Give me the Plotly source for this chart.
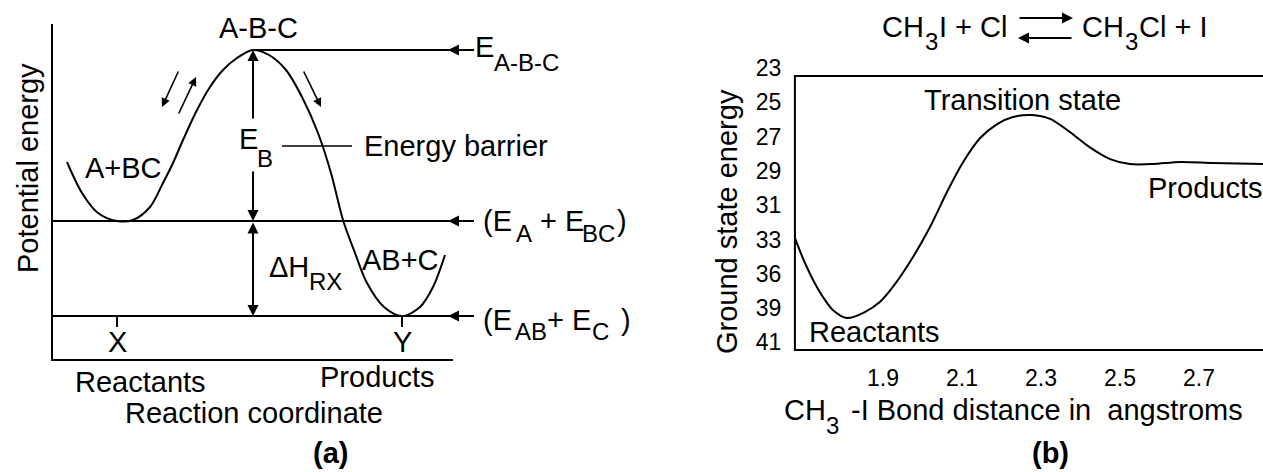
import numpy as np
import plotly.graph_objects as go

FONT = "Liberation Sans, Arial, Helvetica, sans-serif"
INK = "black"

# ---------------- Panel (a): schematic potential energy surface ----------------
# reaction coordinate (arbitrary units) and potential energy (arbitrary units)
rc = [1.5, 3.0, 4.6, 6.5, 8.1, 9.8, 11.1, 12.1, 13.1, 14.5, 15.8, 17.1, 18.5, 20.1,
      21.7, 23.4, 25.0, 26.6, 27.9, 29.1, 30.3, 31.5, 33.2, 35.0, 36.8, 38.1, 39.3]
pe = [19.8, 16.7, 14.7, 13.9, 14.0, 15.3, 17.7, 19.7, 22.0, 25.0, 27.3, 29.0, 30.2, 31.0,
      30.5, 29.0, 26.3, 22.7, 18.7, 14.0, 10.7, 7.7, 5.3, 4.4, 5.3, 7.3, 10.5]

# characteristic points
x_react, x_ts, x_prod = 6.5, 20.1, 35.0
e_ts, e_react, e_prod = 31.0, 13.9, 4.4
axis_x_end, axis_y_end = 40.1, 33.6
level_end, level_arrow_tip = 42.2, 39.6
eb_gap = [19.0, 24.0]          # break in the barrier arrow around the E_B label
tick_depth = 1.1

# ---------------- Panel (b): CH3I + Cl ground state energy ----------------
bond_dist = [1.677, 1.697, 1.723, 1.748, 1.773, 1.809, 1.854, 1.892, 1.925, 1.976,
             2.019, 2.062, 2.103, 2.146, 2.189, 2.229, 2.277, 2.323, 2.373, 2.423,
             2.475, 2.525, 2.584, 2.652, 2.735, 2.862]
gs_energy = [32.91, 34.62, 36.54, 38.03, 39.11, 39.58, 39.23, 38.47, 37.15, 34.53,
             32.27, 30.23, 28.48, 27.08, 26.27, 25.86, 25.74, 25.97, 26.73, 27.61,
             28.31, 28.60, 28.60, 28.48, 28.54, 28.60]
energy_ticks = [23, 25, 27, 29, 31, 33, 36, 39, 41]
dist_ticks = [1.9, 2.1, 2.3, 2.5, 2.7]

# the energy scale is laid out with evenly spaced labels
tick_pos = list(range(len(energy_ticks)))
gs_pos = np.interp(gs_energy, energy_ticks, tick_pos)

W, H = 1263, 472
MAIN, SUB, TICK = 29, 24, 23

fig = go.Figure()

line = dict(color=INK, width=2)
# panel (a) traces
fig.add_trace(go.Scatter(x=[0, 0, axis_x_end], y=[axis_y_end, 0, 0], mode="lines",
                         line=line, xaxis="x", yaxis="y"))
fig.add_trace(go.Scatter(x=rc, y=pe, mode="lines",
                         line=dict(color=INK, width=2, shape="spline", smoothing=0.9),
                         xaxis="x", yaxis="y"))
fig.add_trace(go.Scatter(x=[x_ts, level_end], y=[e_ts, e_ts], mode="lines", line=line, xaxis="x", yaxis="y"))
fig.add_trace(go.Scatter(x=[0, level_end], y=[e_react, e_react], mode="lines", line=line, xaxis="x", yaxis="y"))
fig.add_trace(go.Scatter(x=[0, level_end], y=[e_prod, e_prod], mode="lines", line=line, xaxis="x", yaxis="y"))
for xt in (x_react, x_prod):
    fig.add_trace(go.Scatter(x=[xt, xt], y=[e_prod, e_prod - tick_depth], mode="lines", line=line,
                             xaxis="x", yaxis="y"))
# connector from E_B to its caption
fig.add_trace(go.Scatter(x=[23.0, 30.0], y=[21.4, 21.4], mode="lines", line=dict(color=INK, width=1.6),
                         xaxis="x", yaxis="y"))

# panel (b) curve
fig.add_trace(go.Scatter(x=bond_dist, y=gs_pos, mode="lines",
                         line=dict(color=INK, width=2, shape="spline", smoothing=0.8),
                         xaxis="x2", yaxis="y2"))

# ---------------- axes ----------------
xa_right_px = 700
def rc_at(px):
    return (px - 52) / 10.0
def pe_at(py):
    return (360 - py) / 10.0

b_left_px, b_top_px, b_bot_px = 790, 55, 356
px_per_unit = 395.0
def dist_at(px):
    return 1.9 + (px - 883) / px_per_unit
def pos_at(py):
    return (py - 68) / 34.3

fig.update_layout(
    width=W, height=H, margin=dict(l=0, r=0, t=0, b=0),
    paper_bgcolor="white", plot_bgcolor="white", showlegend=False,
    font=dict(family=FONT, color=INK, size=MAIN),
    xaxis=dict(domain=[0, xa_right_px / W], range=[rc_at(0), rc_at(xa_right_px)], visible=False),
    yaxis=dict(domain=[0, 1], range=[pe_at(H), pe_at(0)], visible=False),
    xaxis2=dict(domain=[b_left_px / W, 1], range=[dist_at(b_left_px), dist_at(W)],
                tickvals=dist_ticks, ticktext=[f"{v:.1f}" for v in dist_ticks],
                showgrid=False, zeroline=False, showline=False,
                ticks="outside", ticklen=1, tickcolor="rgba(0,0,0,0)",
                tickfont=dict(size=TICK, family=FONT, color=INK), anchor="y2"),
    yaxis2=dict(domain=[(H - b_bot_px) / H, (H - b_top_px) / H],
                range=[pos_at(b_bot_px), pos_at(b_top_px)],
                tickvals=tick_pos, ticktext=[str(v) for v in energy_ticks],
                showgrid=False, zeroline=False, showline=False,
                ticks="outside", ticklen=3, tickcolor="rgba(0,0,0,0)",
                tickfont=dict(size=TICK, family=FONT, color=INK), anchor="x2"),
)

# frame of panel (b); its right side runs off the page
fig.add_shape(type="rect", xref="x2", yref="y2", x0=bond_dist[0], x1=3.2,
              y0=pos_at(76), y1=pos_at(350), line=dict(color=INK, width=2))

ann = []
def txt(x, y, s, xref="x", yref="y", xanchor="center", yanchor="middle", size=MAIN, angle=0):
    ann.append(dict(x=x, y=y, text=s, xref=xref, yref=yref, xanchor=xanchor, yanchor=yanchor,
                    showarrow=False, textangle=angle, borderpad=0,
                    font=dict(size=size, family=FONT, color=INK)))

def ptxt(px, py, s, size=MAIN, xanchor="left"):
    # text piece placed in page pixels (used to build formulas with subscripts)
    txt(px / W, (H - py) / H, s, xref="paper", yref="paper", xanchor=xanchor, size=size)

def arrow(x, y, ax, ay, xref="x", yref="y", side="end", width=2):
    ann.append(dict(x=x, y=y, ax=ax, ay=ay, xref=xref, yref=yref, axref=xref, ayref=yref,
                    text="", showarrow=True, arrowhead=2, arrowsize=1.1, arrowwidth=width,
                    arrowcolor=INK, arrowside=side, standoff=0, startstandoff=0))

def harrow(x, y, ax, xref, yref="paper", width=2):
    # horizontal arrow: tail at ax, head at x
    ann.append(dict(x=x, y=y, ax=ax, ay=0, xref=xref, yref=yref, axref=xref, ayref="pixel",
                    text="", showarrow=True, arrowhead=2, arrowsize=1.1, arrowwidth=width,
                    arrowcolor=INK, standoff=0, startstandoff=0))

# level arrows on the right
for lv in (e_ts, e_react, e_prod):
    arrow(level_arrow_tip, lv, level_end, lv)
# barrier and enthalpy arrows
arrow(x_ts, e_ts, x_ts, eb_gap[1])
arrow(x_ts, e_react, x_ts, eb_gap[0])
arrow(x_ts, e_prod, x_ts, e_react, side="end+start")
# direction arrows along the path
arrow(11.0, 25.3, 12.7, 29.0, width=1.6)
arrow(14.4, 28.3, 12.6, 24.5, width=1.6)
arrow(26.9, 25.3, 25.1, 29.0, width=1.6)

# panel (a) labels
txt(20.6, 33.2, "A-B-C")
ptxt(474, 47, "E")
ptxt(493, 63, "A-B-C", size=SUB)
ptxt(482, 221, "(E")
ptxt(515, 233, "A", size=SUB)
ptxt(539, 221, "+ E")
ptxt(581, 233, "BC", size=SUB)
ptxt(616, 221, ")")
ptxt(482, 320, "(E")
ptxt(514, 331, "AB", size=SUB)
ptxt(546, 320, "+ E")
ptxt(591, 331, "C", size=SUB)
ptxt(620, 320, ")")
ptxt(238, 139, "E")
ptxt(256, 158, "B", size=SUB)
ptxt(268, 267, "ΔH")
ptxt(308, 281, "RX", size=SUB)
txt(31.1, 21.4, "Energy barrier", xanchor="left")
txt(7.1, 19.2, "A+BC")
txt(34.8, 10.0, "AB+C")
txt(x_react, 1.8, "X")
txt(x_prod, 1.8, "Y")
txt(8.8, -2.2, "Reactants")
txt(32.5, -1.7, "Products")
txt(20.2, -5.3, "Reaction coordinate")
txt(27.8, -9.3, "<b>(a)</b>")
txt(-2.4, 19.2, "Potential energy", angle=-90)

# panel (b) labels
txt(dist_at(1022), pos_at(100), "Transition state", xref="x2", yref="y2")
txt(dist_at(1147), pos_at(188), "Products", xref="x2", yref="y2", xanchor="left")
txt(dist_at(808), pos_at(332), "Reactants", xref="x2", yref="y2", xanchor="left")
txt(727 / W, (H - 222) / H, "Ground state energy", xref="paper", yref="paper", angle=-90)
ptxt(783, 410, "CH")
ptxt(825, 425, "3", size=SUB)
ptxt(850, 410, "-I Bond distance in  angstroms")
txt(1050 / W, (H - 453) / H, "<b>(b)</b>", xref="paper", yref="paper")

# reaction equation above panel (b)
ptxt(881, 27, "CH")
ptxt(924, 42, "3", size=SUB)
ptxt(938, 27, "I + Cl")
ptxt(1081, 27, "CH")
ptxt(1124, 42, "3", size=SUB)
ptxt(1138, 27, "Cl + I")
harrow(dist_at(1073), (H - 18) / H, dist_at(1018), xref="x2")
harrow(dist_at(1018), (H - 38) / H, dist_at(1073), xref="x2")

fig.update_layout(annotations=ann)
fig.write_html("out.html")
